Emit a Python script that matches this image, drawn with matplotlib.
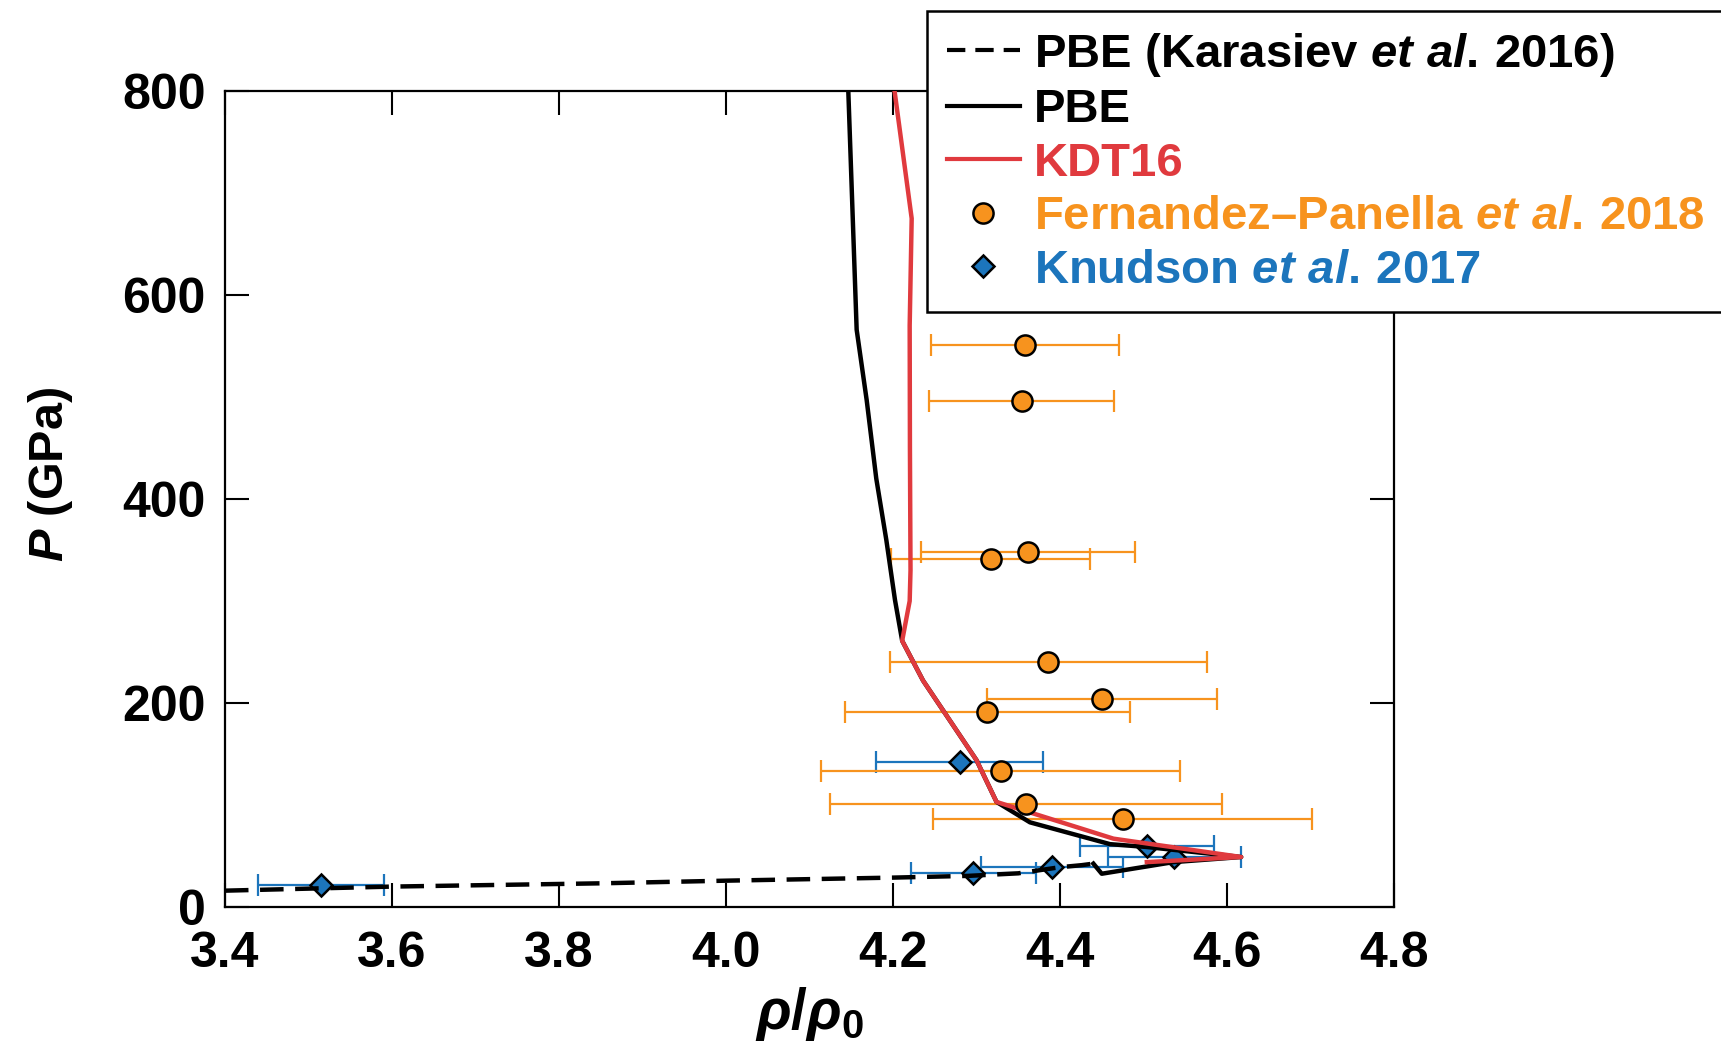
import matplotlib
matplotlib.use("Agg")
import matplotlib.pyplot as plt
from matplotlib.lines import Line2D

plt.rcParams['font.family'] = 'Liberation Sans'
plt.rcParams['font.weight'] = 'bold'
plt.rcParams['axes.labelweight'] = 'bold'
plt.rcParams['mathtext.fontset'] = 'custom'
plt.rcParams['mathtext.rm'] = 'Liberation Sans:bold'
plt.rcParams['mathtext.bf'] = 'Liberation Sans:bold'
plt.rcParams['mathtext.it'] = 'Liberation Sans:italic:bold'
plt.rcParams['mathtext.bfit'] = 'Liberation Sans:italic:bold'

# --- data ---
# PBE (Karasiev et al. 2016), dashed
pbe_k_rho = [3.40, 3.60, 3.85, 4.00, 4.20, 4.29, 4.35, 4.40, 4.426, 4.44]
pbe_k_p = [16, 20, 23.2, 25.8, 28.8, 30.5, 33, 39, 41, 42.5]

# PBE, solid black
pbe_rho = [4.44, 4.45, 4.536, 4.617, 4.504, 4.46, 4.364, 4.324, 4.300, 4.236,
           4.211, 4.2024, 4.192, 4.180, 4.1685, 4.1565, 4.1465]
pbe_p = [42.5, 32.6, 44, 49, 58.8, 61.6, 83, 103, 144, 222,
         261, 301, 360, 420, 497, 566, 800]

# KDT16, red
kdt_rho = [4.504, 4.617, 4.464, 4.324, 4.300, 4.236, 4.211, 4.220, 4.221,
           4.2203, 4.220, 4.2224, 4.2019]
kdt_p = [44, 49, 67, 103, 144, 222, 261, 300, 330, 450, 570, 675, 800]

# Fernandez-Panella et al. 2018
fp_rho = [4.358, 4.354, 4.362, 4.317, 4.386, 4.450, 4.313, 4.329, 4.359, 4.475]
fp_p = [551, 496, 348, 341, 240, 204, 191, 133, 101, 86]
fp_err = [0.113, 0.111, 0.128, 0.119, 0.190, 0.138, 0.171, 0.215, 0.235, 0.227]

# Knudson et al. 2017
kn_rho = [3.515, 4.280, 4.296, 4.390, 4.504, 4.537]
kn_p = [21.5, 142, 33.3, 39.2, 59.8, 49]
kn_err = [0.075, 0.100, 0.075, 0.085, 0.080, 0.080]

orange = '#F7931E'
red = '#E03A3E'
blue = '#1C75BC'

fig = plt.figure(figsize=(17.21, 10.46), dpi=100)
ax = fig.add_axes([0.1307, 0.1329, 0.6793, 0.7801])

# error bars below lines, markers on top
ax.errorbar(kn_rho, kn_p, xerr=kn_err, fmt='none', ecolor=blue,
            elinewidth=1.6, capsize=8, capthick=1.6, zorder=2)
ax.plot(kn_rho, kn_p, 'D', ms=11.5, mfc=blue, mec='black', mew=1.8, zorder=2.5)
ax.errorbar(fp_rho, fp_p, xerr=fp_err, fmt='none', ecolor=orange,
            elinewidth=1.6, capsize=8, capthick=1.6, zorder=2)

ax.plot(pbe_k_rho, pbe_k_p, color='black', lw=3.2, ls=(0, (5.3, 2.6)), zorder=3)
ax.plot(pbe_rho, pbe_p, color='black', lw=3.2, zorder=3)
ax.plot(kdt_rho, kdt_p, color=red, lw=3.2, zorder=3.2)

ax.plot(fp_rho, fp_p, 'o', ms=14.5, mfc=orange, mec='black', mew=1.8, zorder=4)

ax.set_xlim(3.4, 4.8)
ax.set_ylim(0, 800)
ax.set_xticks([3.4, 3.6, 3.8, 4.0, 4.2, 4.4, 4.6, 4.8])
ax.set_xticklabels(['3.4', '3.6', '3.8', '4.0', '4.2', '4.4', '4.6', '4.8'])
ax.set_yticks([0, 200, 400, 600, 800])
ax.tick_params(direction='in', length=17, width=1.5, top=True, right=True,
               labelsize=36)
ax.tick_params(axis='x', pad=17)
ax.tick_params(axis='y', pad=14)
for s in ax.spines.values():
    s.set_linewidth(1.6)

ax.set_ylabel(r'$\mathbfit{P}$ (GPa)', fontsize=35, fontweight='bold')
ax.yaxis.set_label_coords(-0.128, 0.53)
ax.set_xlabel(r'$\mathbfit{\rho}/\mathbfit{\rho}_\mathbf{0}$', fontsize=41)
ax.xaxis.set_label_coords(0.5, -0.095)

handles = [
    Line2D([], [], color='black', lw=3, ls=(0, (4.4, 2.4))),
    Line2D([], [], color='black', lw=3),
    Line2D([], [], color=red, lw=3),
    Line2D([], [], ls='none', marker='o', ms=14.5, mfc=orange, mec='black', mew=1.8),
    Line2D([], [], ls='none', marker='D', ms=11.5, mfc=blue, mec='black', mew=1.8),
]
labels = [
    r'PBE (Karasiev $\mathit{et\ al.}\,\mathrm{2016}$)',
    'PBE',
    'KDT16',
    r'Fernandez–Panella $\mathit{et\ al.}\,\mathrm{2018}$',
    r'Knudson $\mathit{et\ al.}\,\mathrm{2017}$',
]
leg = ax.legend(handles, labels, loc='upper left', bbox_to_anchor=(0.5386, 0.9895),
                bbox_transform=fig.transFigure, borderaxespad=0, fontsize=34,
                handlelength=1.55, handletextpad=0.3, borderpad=0.42,
                labelspacing=0.2, fancybox=False, framealpha=1,
                edgecolor='black')
leg.get_frame().set_linewidth(1.8)
leg.set_zorder(10)
for t, c in zip(leg.get_texts(), ['black', 'black', red, orange, blue]):
    t.set_color(c)

fig.savefig('out.png', dpi=100)
